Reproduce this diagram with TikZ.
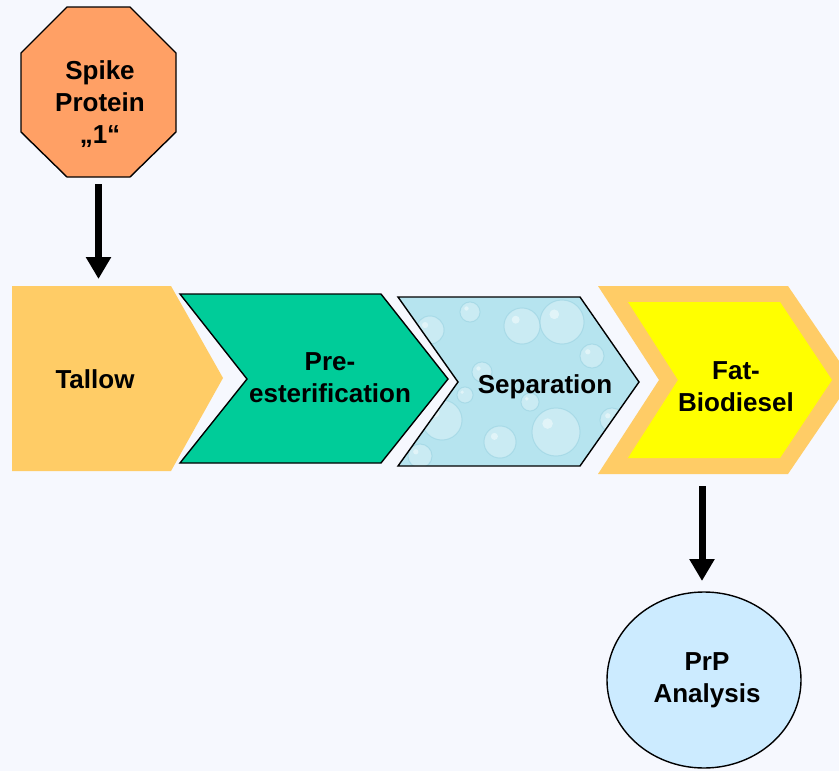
\documentclass[tikz,border=0pt]{standalone}
\usepackage{fontspec}
\setmainfont{Liberation Sans}
\usetikzlibrary{arrows.meta}
\definecolor{bgc}{HTML}{F6F8FE}
\definecolor{octo}{HTML}{FFA065}
\definecolor{tallowc}{HTML}{FFCC66}
\definecolor{greenc}{HTML}{00CC99}
\definecolor{waterc}{HTML}{B6E4EF}
\definecolor{waterd}{HTML}{7FC3D6}
\definecolor{yellowc}{HTML}{FFFF00}
\definecolor{circc}{HTML}{CCEBFF}
\begin{document}
\begin{tikzpicture}[x=1pt,y=-1pt,
  lbl/.style={font=\fontsize{26}{32}\selectfont\bfseries, align=center, inner sep=0pt},
  bigarrow/.style={line width=7pt, -{Triangle[width=24pt,length=22pt]}},
  outline/.style={draw=black, line width=1.4pt, line join=miter}]
\fill[bgc] (0,0) rectangle (839,771);
\useasboundingbox (0,0) rectangle (839,771);
\begin{scope}
\clip (0,0) rectangle (839,771);
% Spike protein octagon
\filldraw[fill=octo, outline] (67,7)--(130,7)--(176,53)--(176,132)--(130,177)--(67,177)--(21,132)--(21,53)--cycle;
% Tallow
\fill[tallowc] (12,286)--(171,286)--(223,378)--(171,471)--(12,471)--cycle;
% Pre-esterification
\filldraw[fill=greenc, outline] (180,294)--(381,294)--(448,379)--(381,463)--(180,463)--(247,379)--cycle;
% Separation (water texture)
\begin{scope}
\clip (398,297)--(580,297)--(639,382)--(580,466)--(398,466)--(458,382)--cycle;
\fill[waterc] (390,290) rectangle (645,470);
\foreach \x/\y/\r in {430/330/14, 470/312/10, 522/326/18, 562/322/22, 592/356/12, 442/420/20, 500/442/16, 556/432/24, 612/420/12, 482/372/10, 602/452/10, 420/456/12, 530/402/9, 465/395/8, 620/330/9, 410/345/8}{
  \fill[white, opacity=0.28] (\x,\y) circle (\r);
  \draw[waterd, opacity=0.35, line width=1pt] (\x,\y) circle (\r);
  \fill[white, opacity=0.45] (\x-0.35*\r,\y-0.35*\r) circle (0.22*\r);
}
\end{scope}
\draw[outline] (398,297)--(580,297)--(639,382)--(580,466)--(398,466)--(458,382)--cycle;
% Fat-Biodiesel
\fill[tallowc] (598,286)--(788,286)--(852,380)--(788,474)--(598,474)--(659,380)--cycle;
\fill[yellowc] (628,302)--(780,302)--(832,380)--(780,458)--(628,458)--(678,380)--cycle;
% PrP analysis ellipse
\filldraw[fill=circc, draw=black, line width=1.4pt] (704,680) ellipse [x radius=97, y radius=88];
\end{scope}
% labels
\node[lbl] (spike) at (100,104) {Spike\\Protein\\„1“};
\node[lbl] (tallow) at (95,379) {Tallow};
\node[lbl] (preest) at (330,378) {Pre-\\esterification};
\node[lbl] (sep) at (545,387) {Separation};
\node[lbl] (fat) at (736,387) {Fat-\\Biodiesel};
\node[lbl] (prp) at (707,680) {PrP\\Analysis};
% connectors
\coordinate (a1s) at (98.5,184);
\coordinate (a1e) at (98.5,279);
\coordinate (a2s) at (702,486);
\coordinate (a2e) at (702,581);
\draw[bigarrow] (a1s) -- (a1e);
\draw[bigarrow] (a2s) -- (a2e);
\end{tikzpicture}
\end{document}
